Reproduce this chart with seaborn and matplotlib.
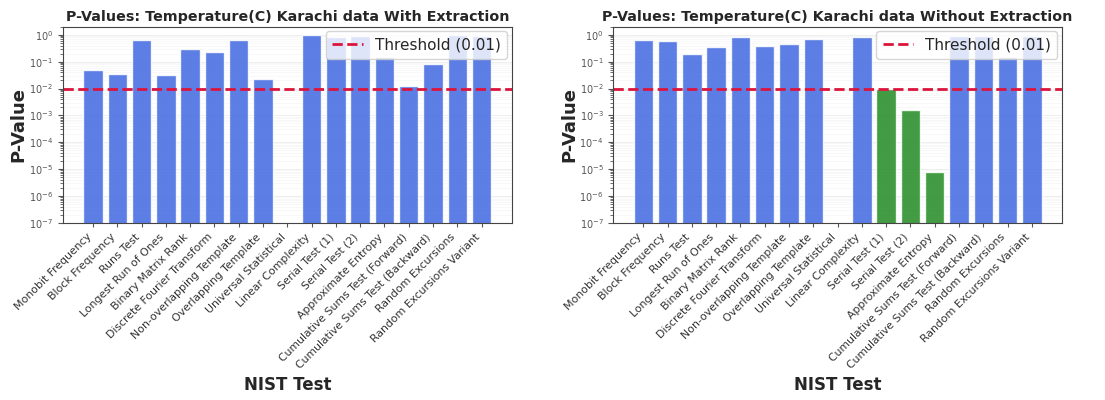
import numpy as np
import pandas as pd
import matplotlib
matplotlib.use("Agg")
import matplotlib.pyplot as plt
import seaborn as sns

# NIST test names
tests = [
    "Monobit Frequency", "Block Frequency", "Runs Test", "Longest Run of Ones",
    "Binary Matrix Rank", "Discrete Fourier Transform", "Non-overlapping Template",
    "Overlapping Template", "Universal Statistical", "Linear Complexity",
    "Serial Test (1)", "Serial Test (2)", "Approximate Entropy",
    "Cumulative Sums Test (Forward)", "Cumulative Sums Test (Backward)",
    "Random Excursions", "Random Excursions Variant",
]

# p-values (Universal Statistical has no bar)
p_with = [0.05, 0.035, 0.66, 0.032, 0.29, 0.23, 0.62, 0.022, np.nan,
          0.97, 0.85, 0.92, 0.15, 0.012, 0.085, 0.98, 0.9]
p_without = [0.62, 0.59, 0.20, 0.35, 0.80, 0.40, 0.47, 0.69, np.nan,
             0.87, 0.0093, 0.00155, 7.9e-6, 0.88, 0.88, 0.15, 0.88]

threshold = 0.01
titles = ["P-Values: Temperature(C) Karachi data With Extraction",
          "P-Values: Temperature(C) Karachi data Without Extraction"]

sns.set_style("white")
plt.rcParams["font.family"] = ["DejaVu Sans"]

fig = plt.figure(figsize=(11.05, 4.0), dpi=100)
ax1 = fig.add_axes([0.057, 0.443, 0.406, 0.49])
ax2 = fig.add_axes([0.555, 0.443, 0.406, 0.49])

for ax, vals, title in zip([ax1, ax2], [p_with, p_without], titles):
    df = pd.DataFrame({"test": tests, "p": vals})
    colors = ["forestgreen" if (v < threshold) else "royalblue" for v in vals]
    sns.barplot(data=df, x="test", y="p", hue="test", palette=colors,
                legend=False, width=0.8, alpha=0.85, saturation=1, ax=ax)
    ax.set_yscale("log")
    ax.set_ylim(1e-7, 2)
    ax.set_xlim(-1.24, len(tests) + 0.24)
    ax.axhline(threshold, color="crimson", linestyle="--", linewidth=2,
               label="Threshold (0.01)")
    ax.grid(True, which="major", axis="y", color="#dddddd", alpha=0.5, linewidth=0.7)
    ax.grid(True, which="minor", axis="y", color="#e6e6e6", alpha=0.35, linewidth=0.5)
    ax.set_axisbelow(True)
    ax.set_title(title, fontsize=10.3, fontweight="bold", pad=4)
    ax.set_ylabel("P-Value", fontsize=13, fontweight="bold", labelpad=1)
    ax.set_xlabel("NIST Test", fontsize=12, fontweight="bold", labelpad=4)
    ax.set_xticks(range(len(tests)))
    ax.set_xticklabels(tests, rotation=45, ha="right", fontsize=7.8, color="#333333")
    ax.tick_params(axis="y", labelsize=7, colors="#555555", which="both")
    ax.tick_params(axis="x", bottom=True, length=3, color="#555555")
    ax.tick_params(axis="y", left=True, which="both", color="#555555")
    for s in ax.spines.values():
        s.set_color("#444444")
        s.set_linewidth(0.8)
    ax.legend(loc="upper right", fontsize=11, framealpha=0.8, borderaxespad=0.3)

fig.savefig("out.png", dpi=100)
